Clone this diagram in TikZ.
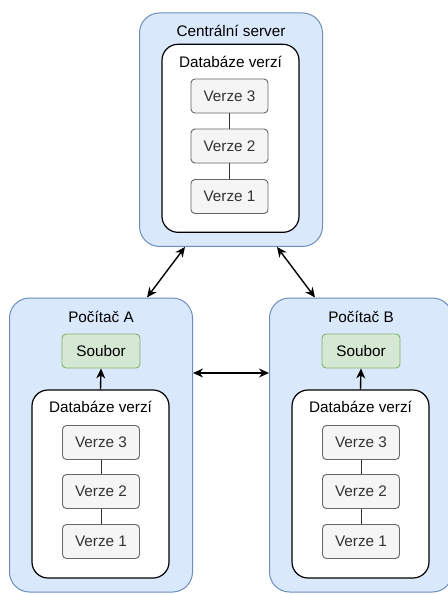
\documentclass[tikz,border=0pt]{standalone}
\usepackage{fontspec}
\setmainfont{Liberation Sans}
\usepackage{tikz}
\definecolor{boxblue}{HTML}{DAE8FC}
\definecolor{lineblue}{HTML}{6C8EBF}
\definecolor{boxgreen}{HTML}{D5E8D4}
\definecolor{linegreen}{HTML}{82B366}
\definecolor{boxgray}{HTML}{F5F5F5}
\definecolor{linegray}{HTML}{666666}
\definecolor{textgray}{HTML}{333333}
\usetikzlibrary{arrows.meta}
\pgfdeclarelayer{edgelayer}
\pgfdeclarelayer{nodelayer}
\pgfsetlayers{edgelayer,nodelayer,main}
\tikzstyle{titletext}=[font=\fontsize{15.3}{18}\selectfont,inner sep=0pt]
\tikzstyle{machine}=[rectangle,rounded corners=20pt,fill=boxblue,draw=lineblue,line width=1pt,minimum width=183pt,inner sep=0pt]
\tikzstyle{database}=[rectangle,rounded corners=16pt,fill=white,draw=black,line width=1.2pt,minimum width=137pt,minimum height=188pt,inner sep=0pt]
\tikzstyle{version}=[rectangle,rounded corners=4pt,fill=boxgray,draw=linegray,text=textgray,line width=0.9pt,minimum width=77pt,minimum height=34pt,inner sep=0pt,font=\fontsize{15.3}{18}\selectfont]
\tikzstyle{file}=[rectangle,rounded corners=4pt,fill=boxgreen,draw=linegreen,line width=0.9pt,minimum width=78pt,minimum height=34pt,inner sep=0pt,font=\fontsize{15.3}{18}\selectfont]
\tikzstyle{history}=[draw=textgray,line width=1pt]
\tikzstyle{link}=[line width=1.4pt,{Stealth[length=10pt,width=9pt]}-{Stealth[length=10pt,width=9pt]}]

\begin{document}
\begin{tikzpicture}[x=1pt,y=-1pt]
        \useasboundingbox (0, 0) rectangle (447, 594);
        \begin{pgfonlayer}{edgelayer}
            % central server
            \node [style = machine, minimum height=233.5pt] (srv) at (231, 129.7) {};
            \node [style = titletext] (srvname) at (231, 31) {Centrální server};
            \node [style = database] (dbS) at (230.5, 138.3) {};
            \node [style = titletext] (dbSname) at (230.5, 62) {Databáze verzí};

            % computer A
            \node [style = machine, minimum height=294pt] (pcA) at (101, 445) {};
            \node [style = titletext] (pcAname) at (101, 317) {Počítač A};
            \node [style = file] (fileA) at (101, 351) {Soubor};
            \node [style = database] (dbA) at (100.5, 484) {};
            \node [style = titletext] (dbAname) at (100.5, 407) {Databáze verzí};

            % computer B
            \node [style = machine, minimum height=294pt] (pcB) at (361, 445) {};
            \node [style = titletext] (pcBname) at (361, 317) {Počítač B};
            \node [style = file] (fileB) at (361, 351) {Soubor};
            \node [style = database] (dbB) at (360.5, 484) {};
            \node [style = titletext] (dbBname) at (360.5, 407) {Databáze verzí};
        \end{pgfonlayer}

        \begin{pgfonlayer}{nodelayer}
            \node [style = version] (s3) at (229.5, 96) {Verze 3};
            \node [style = version] (s2) at (229.5, 146) {Verze 2};
            \node [style = version] (s1) at (229.5, 196.5) {Verze 1};
            \node [style = version] (a3) at (101, 442.5) {Verze 3};
            \node [style = version] (a2) at (101, 491.5) {Verze 2};
            \node [style = version] (a1) at (101, 541.5) {Verze 1};
            \node [style = version] (b3) at (361, 442.5) {Verze 3};
            \node [style = version] (b2) at (361, 491.5) {Verze 2};
            \node [style = version] (b1) at (361, 541.5) {Verze 1};
        \end{pgfonlayer}

        % history chains inside each database
        \draw [style = history] (s3) to (s2);
        \draw [style = history] (s2) to (s1);
        \draw [style = history] (a3) to (a2);
        \draw [style = history] (a2) to (a1);
        \draw [style = history] (b3) to (b2);
        \draw [style = history] (b2) to (b1);

        % checkout arrows and sync arrows
        \draw [-{Stealth[length=10pt,width=9pt]}, line width=1.4pt] (dbA.north) to (fileA.south);
        \draw [-{Stealth[length=10pt,width=9pt]}, line width=1.4pt] (dbB.north) to (fileB.south);
        \draw [style = link] ([xshift=-46pt]srv.south) to ([xshift=46pt]pcA.north);
        \draw [style = link] ([xshift=46pt]srv.south) to ([xshift=-46pt]pcB.north);
        \draw [style = link] ([yshift=72pt]pcA.east) to ([yshift=72pt]pcB.west);
    \end{tikzpicture}
\end{document}
